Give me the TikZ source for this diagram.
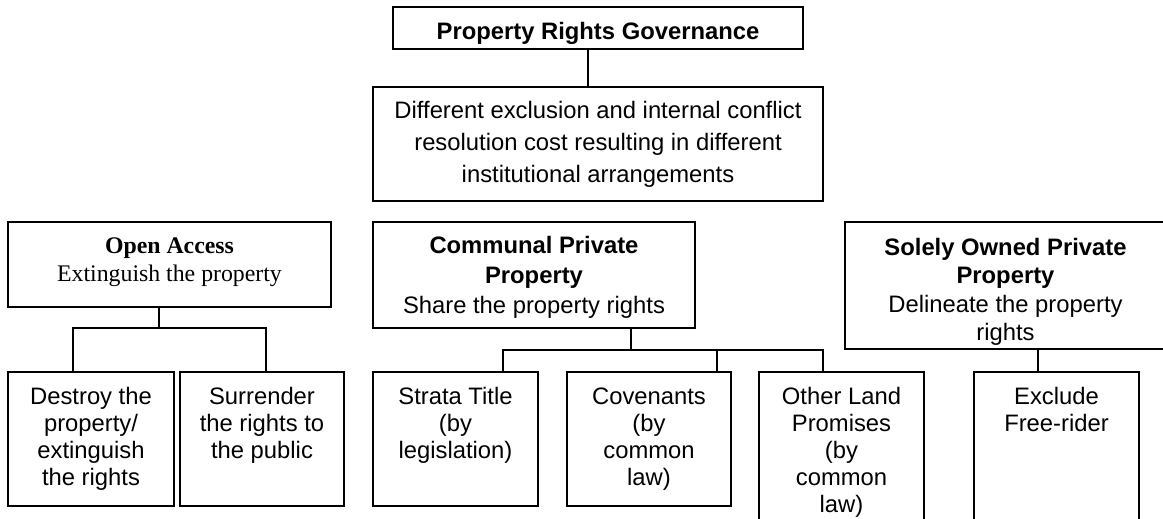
\documentclass[tikz,border=0pt]{standalone}
\usepackage{fontspec}
\setmainfont{Liberation Sans}
\newfontfamily\tnr{Liberation Serif}
\newcommand{\bxt}[5]{\parbox[c][#2][t]{#1}{\centering\fontsize{23.8}{#4}\selectfont\rule{0pt}{#3}#5}}
\tikzset{
  box/.style={draw, line width=1.8pt, inner sep=0pt, outer sep=0pt, anchor=north west},
  conn/.style={line width=1.8pt},
}
\begin{document}
\begin{tikzpicture}[x=1pt,y=-1pt]
\useasboundingbox (0,0) rectangle (1163,519);
\clip (0,0) rectangle (1163,519);
\fill[white] (0,0) rectangle (1163,519);
% boxes
\node[box] (top) at (393,7) {\bxt{410pt}{42pt}{33pt}{28pt}{\bfseries Property Rights Governance}};
\node[box] (diff) at (373,87) {\bxt{450pt}{114pt}{31pt}{32pt}{Different exclusion and internal conflict\\resolution cost resulting in different\\institutional arrangements}};
\node[box] (oa) at (8,222) {\bxt{323pt}{85pt}{31pt}{28.5pt}{\tnr\textbf{Open Access}\\Extinguish the property}};
\node[box] (comm) at (373,222) {\bxt{322pt}{106pt}{31pt}{30pt}{\textbf{Communal Private}\\\textbf{Property}\\Share the property rights}};
\node[box] (sole) at (845,222) {\bxt{321pt}{127pt}{33pt}{28.5pt}{\textbf{Solely Owned Private}\\\textbf{Property}\\Delineate the property\\rights}};
\node[box] (destroy) at (8,372) {\bxt{166pt}{134pt}{32pt}{27pt}{Destroy the\\property/\\extinguish\\the rights}};
\node[box] (surrender) at (180,372) {\bxt{164pt}{134pt}{32pt}{27pt}{Surrender\\the rights to\\the public}};
\node[box] (strata) at (373,372) {\bxt{165pt}{134pt}{32pt}{27pt}{Strata Title\\(by\\legislation)}};
\node[box] (cov) at (567,372) {\bxt{164pt}{134pt}{32pt}{27pt}{Covenants\\(by\\common\\law)}};
\node[box] (other) at (759,372) {\bxt{165pt}{160pt}{32pt}{27pt}{Other Land\\Promises\\(by\\common\\law)}};
\node[box] (excl) at (974,372) {\bxt{165pt}{160pt}{32pt}{27pt}{Exclude\\Free-rider}};
% junction coordinates
\coordinate (c1) at (588,0);
\coordinate (oaj) at (159,328);
\coordinate (oal) at (73,328);
\coordinate (oar) at (266,328);
\coordinate (cj) at (631,350);
\coordinate (cl) at (503,350);
\coordinate (cm) at (717,350);
\coordinate (cr) at (823,350);
\coordinate (sj) at (1038,0);
% connectors
\draw[conn] (top.south -| c1) -- (diff.north -| c1);
\draw[conn] (oa.south -| oaj) -- (oaj);
\draw[conn] (destroy.north -| oal) |- (oar) -- (surrender.north -| oar);
\draw[conn] (comm.south -| cj) -- (cj);
\draw[conn] (strata.north -| cl) |- (cr) -- (other.north -| cr);
\draw[conn] (cm) -- (cov.north -| cm);
\draw[conn] (sole.south -| sj) -- (excl.north -| sj);
\end{tikzpicture}
\end{document}
